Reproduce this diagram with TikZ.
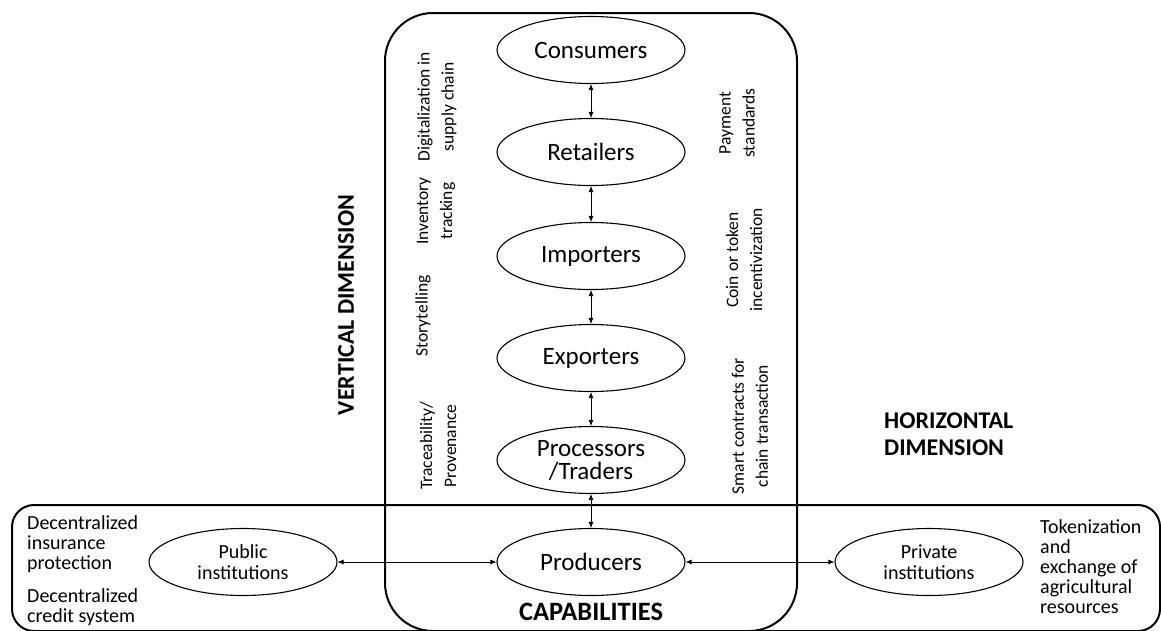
\documentclass[tikz,border=0pt]{standalone}
\usepackage{fontspec}
\setmainfont{Carlito}
\usetikzlibrary{shapes.geometric,arrows.meta}
\begin{document}
\begin{tikzpicture}[x=1pt,y=-1pt,
 ell/.style={draw,ellipse,line width=1.1pt,minimum width=188pt,minimum height=67pt,inner sep=0pt,align=center,font=\fontsize{25}{23}\selectfont},
 ellsmall/.style={ell,font=\fontsize{20}{21}\selectfont},
 frame/.style={draw,line width=2pt,rounded corners=48pt},
 link/.style={{Latex[length=6pt,width=5pt]}-{Latex[length=6pt,width=5pt]},line width=0.8pt},
 rot/.style={rotate=90,align=center,font=\fontsize{17.5}{24}\selectfont},
 side/.style={align=left,anchor=north west,font=\fontsize{20}{20}\selectfont,inner sep=0pt},
 dim/.style={font=\bfseries\fontsize{24}{27}\selectfont}]
\useasboundingbox (0,0) rectangle (1161,630);
\fill[white] (0,0) rectangle (1161,630);
\draw[frame] (385,13) rectangle (797,631);
\draw[frame,rounded corners=22pt] (12,505) rectangle (1160,631);

\node[ell] (cons) at (591,50) {Consumers};
\node[ell] (ret) at (591,152) {Retailers};
\node[ell] (imp) at (591,256) {Importers};
\node[ell] (exp) at (591,358) {Exporters};
\node[ell] (proc) at (591,460) {Processors\\/Traders};
\node[ell] (prod) at (591,562) {Producers};
\node[ellsmall] (pub) at (243,562) {Public\\institutions};
\node[ellsmall] (priv) at (929,562) {Private\\institutions};

\draw[link] (cons) -- (ret);
\draw[link] (ret) -- (imp);
\draw[link] (imp) -- (exp);
\draw[link] (exp) -- (proc);
\draw[link] (proc) -- (prod);
\draw[link] (pub) -- (prod);
\draw[link] (prod) -- (priv);

\node[rot] (digi) at (437,107) {Digitalization in\\supply chain};
\node[rot] (inv) at (436,211) {Inventory\\tracking};
\node[rot] (story) at (423,316) {Storytelling};
\node[rot] (trace) at (438,446) {Traceability/\\Provenance};
\node[rot] (pay) at (737,123) {Payment\\standards};
\node[rot] (coin) at (744,260) {Coin or token\\incentivization};
\node[rot] (smart) at (750,426) {Smart contracts for\\chain transaction};

\node[dim,rotate=90] (vdim) at (346,305) {VERTICAL DIMENSION};
\node[dim,align=left,anchor=west,inner sep=0pt] (hdim) at (884,434) {HORIZONTAL\\DIMENSION};
\node[dim,font=\bfseries\fontsize{26.5}{28}\selectfont] (cap) at (591,612) {CAPABILITIES};

\node[side] (ins) at (27,515) {Decentralized\\insurance\\protection};
\node[side] (cred) at (27,588) {Decentralized\\credit system};
\node[side] (tok) at (1040,519) {Tokenization\\and\\exchange of\\agricultural\\resources};
\end{tikzpicture}
\end{document}
